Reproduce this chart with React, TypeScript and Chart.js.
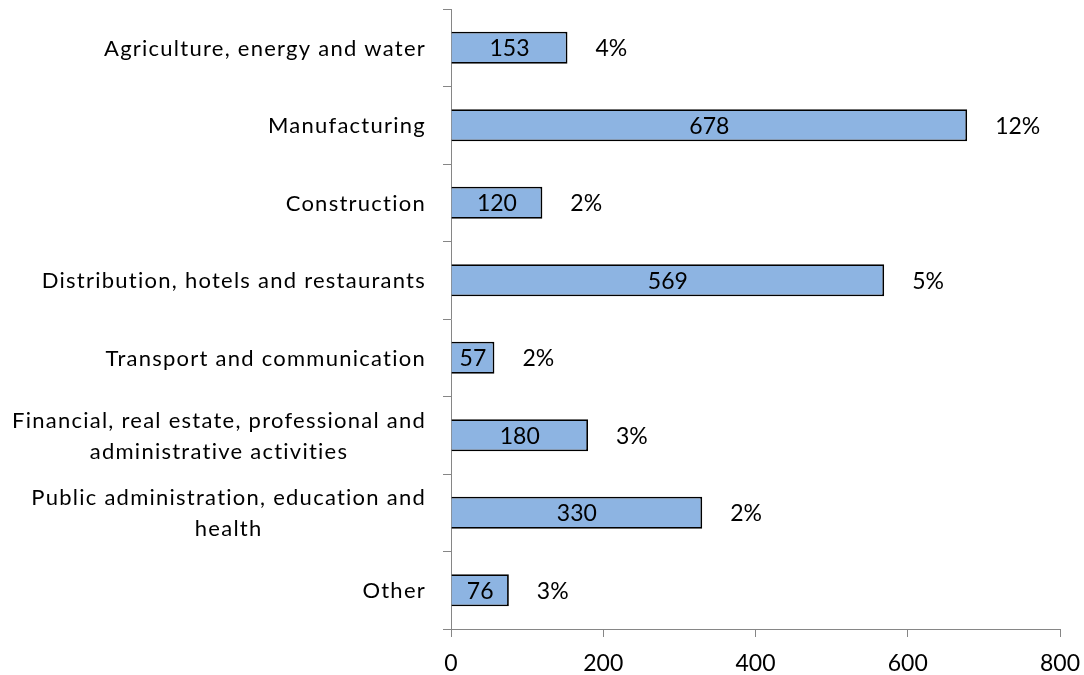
import React, { useEffect, useRef } from "react";
import { Chart, registerables } from "chart.js";

Chart.register(...registerables);

const categories: string[][] = [
  ["Agriculture, energy and water"],
  ["Manufacturing"],
  ["Construction"],
  ["Distribution, hotels and restaurants"],
  ["Transport and communication"],
  ["Financial, real estate, professional and", "administrative activities"],
  ["Public administration, education and", "health"],
  ["Other"],
];
const values = [153, 678, 120, 569, 57, 180, 330, 76];
const shares = ["4%", "12%", "2%", "5%", "2%", "3%", "2%", "3%"];
const xTicks = [0, 200, 400, 600, 800];

const FONT_FAMILY = "Lato, 'Open Sans', sans-serif";
const FONT_SIZE = 22;
const VALUE_FONT_SIZE = 23;
const AXIS_FONT_SIZE = 23;
const AXIS_GRAY = "#868686";

const labelPlugin = {
  id: "customLabels",
  afterDatasetsDraw(chart: any) {
    const ctx = chart.ctx;
    const meta = chart.getDatasetMeta(0);
    const yScale = chart.scales.y;
    ctx.save();
    ctx.font = `${VALUE_FONT_SIZE}px ${FONT_FAMILY}`;
    ctx.fillStyle = "#000";
    ctx.textBaseline = "middle";
    meta.data.forEach((bar: any, i: number) => {
      const { x, y, base } = bar.getProps(["x", "y", "base"], true);
      ctx.textAlign = "center";
      ctx.fillText(String(values[i]), (x + base) / 2, y + 1);
      ctx.textAlign = "left";
      ctx.fillText(shares[i], x + 28, y + 1);
    });
    // category labels
    ctx.font = `${FONT_SIZE}px ${FONT_FAMILY}`;
    (ctx as any).letterSpacing = "1.25px";
    const rightEdge = yScale.left - 17;
    const lineH = 31;
    categories.forEach((lines, i) => {
      const cy = yScale.getPixelForValue(i);
      const widths = lines.map((l) => ctx.measureText(l).width);
      const maxW = Math.max(...widths);
      const cx = rightEdge - maxW / 2;
      const startY = cy - ((lines.length - 1) * lineH) / 2;
      ctx.textAlign = "center";
      lines.forEach((l, j) => {
        ctx.fillText(l, cx, startY + j * lineH + 1);
      });
    });
    ctx.restore();
  },
};

export default function App() {
  const ref = useRef<HTMLCanvasElement | null>(null);
  useEffect(() => {
    document.body.style.margin = "0";
    const canvas = ref.current;
    if (!canvas) return;
    const chart = new Chart(canvas, {
      type: "bar",
      data: {
        labels: categories.map((c) => c.join(" ")),
        datasets: [
          {
            data: values,
            backgroundColor: "#8DB4E2",
            borderColor: "#000000",
            borderWidth: 1.8,
            barPercentage: 0.413,
            categoryPercentage: 1,
          },
        ],
      },
      options: {
        indexAxis: "y",
        responsive: false,
        animation: false,
        devicePixelRatio: 1,
        layout: { padding: { left: 443, right: 24, top: 9, bottom: 0 } },
        plugins: {
          legend: { display: false },
          tooltip: { enabled: false },
        },
        scales: {
          x: {
            type: "linear",
            min: 0,
            max: 800,
            afterBuildTicks: (s: any) => {
              s.ticks = xTicks.map((v) => ({ value: v }));
            },
            afterFit: (s: any) => {
              s.height = 46;
              s.paddingLeft = 0;
              s.paddingRight = 0;
            },
            grid: {
              drawOnChartArea: false,
              drawTicks: true,
              tickLength: 8,
              color: AXIS_GRAY,
            },
            border: { color: AXIS_GRAY, width: 1 },
            ticks: {
              color: "#000",
              font: { family: FONT_FAMILY, size: AXIS_FONT_SIZE },
              padding: 13,
              maxRotation: 0,
            },
          },
          y: {
            type: "category",
            grid: {
              offset: true,
              drawOnChartArea: false,
              drawTicks: true,
              tickLength: 8,
              color: AXIS_GRAY,
            },
            border: { color: AXIS_GRAY, width: 1 },
            ticks: { display: false },
            afterFit: (s: any) => {
              s.width = 8;
            },
          },
        },
      },
      plugins: [labelPlugin],
    } as any);
    return () => chart.destroy();
  }, []);
  return <canvas ref={ref} width={1084} height={675} style={{ display: "block" }} />;
}
